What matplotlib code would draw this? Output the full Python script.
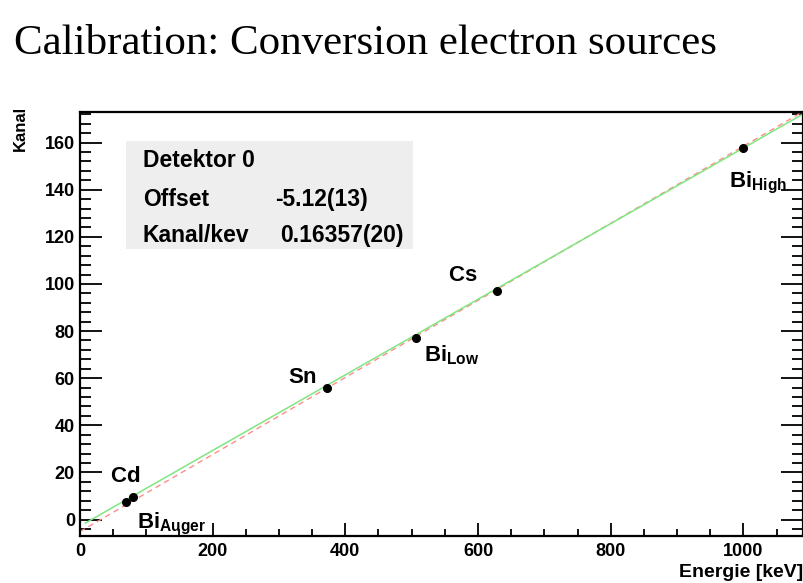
import numpy as np
import matplotlib.pyplot as plt
from matplotlib.ticker import MultipleLocator

plt.rcParams['mathtext.fontset'] = 'custom'
plt.rcParams['mathtext.bf'] = 'Liberation Sans:bold'
plt.rcParams['mathtext.rm'] = 'Liberation Sans:bold'

# Messpunkte (Energie in keV, Kanal)
quellen = ["Cd", "Bi_Auger", "Sn", "Bi_Low", "Cs", "Bi_High"]
energie = np.array([70, 80, 373, 506, 629, 1000])
kanal = np.array([7.3, 9.7, 55.8, 77.2, 97.2, 157.7])

# Fitparameter
offset, steigung = -5.12, 0.16357
offset_gruen, steigung_gruen = -2.8, 0.1605

# Beschriftung: Text, Versatz in Pixeln (links, Grundlinie)
labels = {
    "Cd": (r"$\mathbf{Cd}$", -16, 20),
    "Bi_Auger": (r"$\mathbf{Bi}_{\mathbf{Auger}}$", 4, -32),
    "Sn": (r"$\mathbf{Sn}$", -39, 5),
    "Bi_Low": (r"$\mathbf{Bi}_{\mathbf{Low}}$", 8, -24),
    "Cs": (r"$\mathbf{Cs}$", -49, 10),
    "Bi_High": (r"$\mathbf{Bi}_{\mathbf{High}}$", -14, -39),
}

fig = plt.figure(figsize=(8.04, 5.83), dpi=100)
ax = fig.add_axes([0.0995, 0.0806, 0.8993, 0.7273])

x = np.array([0, 1090])
ax.plot(x, offset + steigung * x, color='#ff8c8c', lw=1, ls=(0, (4, 3)))
xg = np.array([8, 1090])
ax.plot(xg, offset_gruen + steigung_gruen * xg, color='#80e680', lw=1.1)
ax.plot(energie, kanal, 'o', color='black', ms=5.5)

for q, e, k in zip(quellen, energie, kanal):
    txt, dx, dy = labels[q]
    ax.annotate(txt, (e, k), xytext=(dx, dy), textcoords='offset pixels',
                fontsize=16, ha='left', va='baseline', annotation_clip=False)

ax.set_xlim(0, 1090)
ax.set_ylim(-7, 173)
ax.xaxis.set_major_locator(MultipleLocator(200))
ax.xaxis.set_minor_locator(MultipleLocator(50))
ax.yaxis.set_major_locator(MultipleLocator(20))
ax.yaxis.set_minor_locator(MultipleLocator(4))
ax.tick_params(axis='x', which='major', direction='in', length=9.5, width=1.3,
               top=False, labelsize=13, pad=5)
ax.tick_params(axis='x', which='minor', direction='in', length=5, width=1.3, top=False)
ax.tick_params(axis='y', which='major', direction='in', length=16, width=1.3,
               right=True, labelsize=13, pad=3.6)
ax.tick_params(axis='y', which='minor', direction='in', length=8, width=1.3, right=True)
for lab in ax.get_xticklabels() + ax.get_yticklabels():
    lab.set_fontweight('bold')
    lab.set_family('Liberation Sans')
for s in ax.spines.values():
    s.set_linewidth(1.6)

# Achsentitel
fig.text(803 / 804, 1 - 577 / 583, "Energie [keV]", fontsize=14, fontweight='bold',
         family='Liberation Sans', ha='right', va='baseline')
fig.text(20 / 804, 1 - 106 / 583, "Kanal", fontsize=12, fontweight='bold',
         family='Liberation Sans', ha='center', va='top', rotation=90)

# Infobox
box = plt.Rectangle((126 / 804, 1 - 249 / 583), 287 / 804, 108 / 583,
                    transform=fig.transFigure, facecolor='#eeeeee', edgecolor='none', zorder=0)
fig.patches.append(box)
tkw = dict(fontsize=16.5, fontweight='bold', family='Liberation Sans', va='baseline')
fig.text(143 / 804, 1 - 167 / 583, "Detektor 0", **tkw)
fig.text(143 / 804, 1 - 206 / 583, "Offset", **tkw)
fig.text(275 / 804, 1 - 206 / 583, "-5.12(13)", **tkw)
fig.text(143 / 804, 1 - 242 / 583, "Kanal/kev", **tkw)
fig.text(280 / 804, 1 - 242 / 583, "0.16357(20)", **tkw)

fig.text(14 / 804, 1 - 54 / 583, "Calibration: Conversion electron sources",
         fontsize=31, family='Liberation Serif', va='baseline')

fig.savefig("out.png", dpi=100)
